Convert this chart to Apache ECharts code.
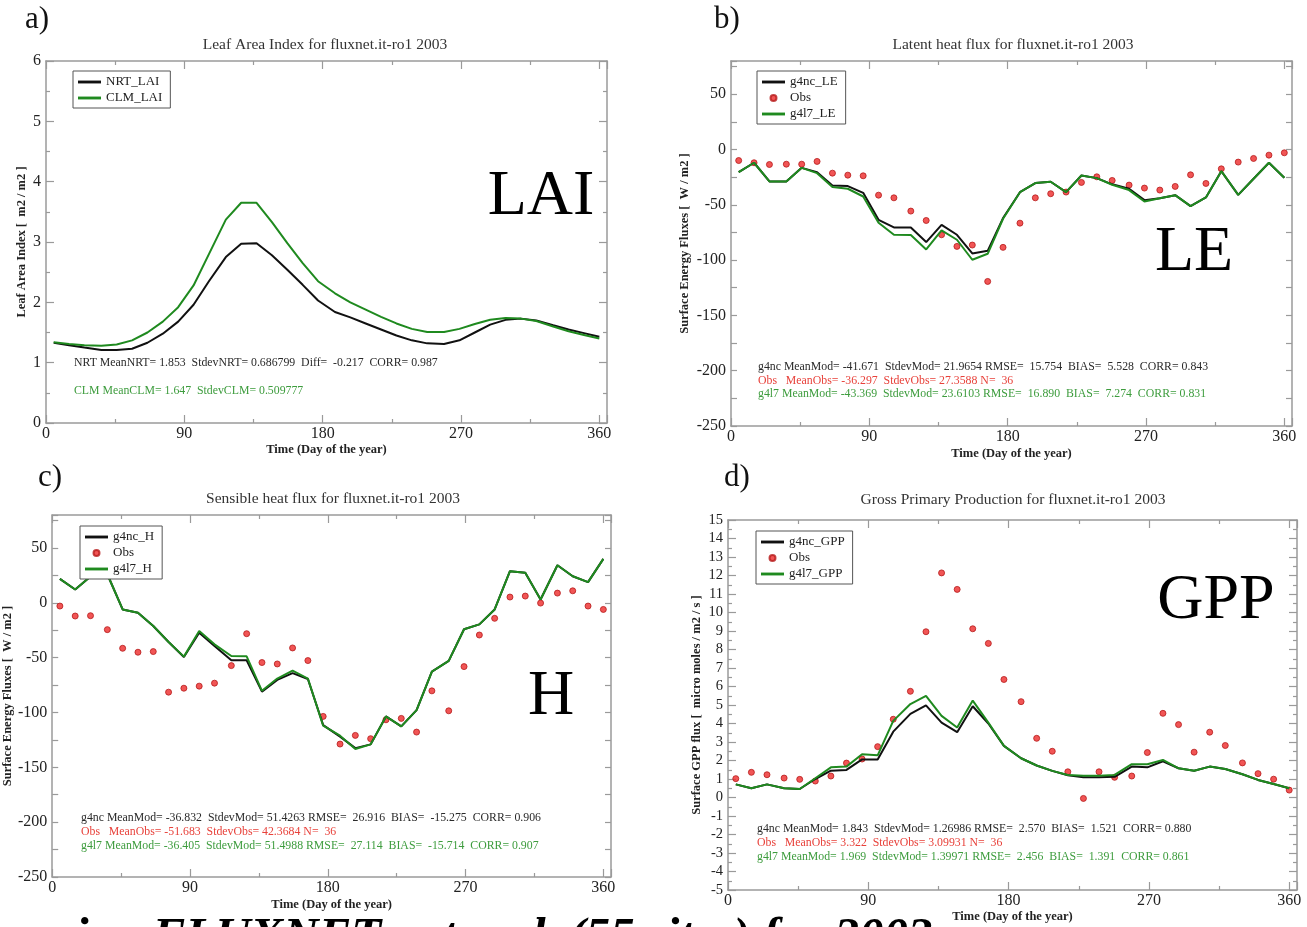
<!DOCTYPE html>
<html><head><meta charset="utf-8">
<script src="https://cdn.jsdelivr.net/npm/echarts@6/dist/echarts.min.js"></script>
<style>html,body{margin:0;padding:0;background:#fff;}#c{width:1307px;height:927px;}</style>
</head><body><div id="c"></div>
<script>
// ---- data ----
const DAYS = [5,15,25,36,46,56,66,76,86,96,106,117,127,137,147,157,167,177,188,198,208,218,228,238,248,259,269,279,289,299,309,319,330,340,350,360];
const X_TICKS = [0,90,180,270,360];
const LAI_TICKS = [0,1,2,3,4,5,6];
const FLUX_TICKS = [-250,-200,-150,-100,-50,0,50];
const GPP_TICKS = [-5,-4,-3,-2,-1,0,1,2,3,4,5,6,7,8,9,10,11,12,13,14,15];

const LAI_NRT = [1.33,1.29,1.25,1.21,1.21,1.23,1.33,1.48,1.68,1.96,2.35,2.75,2.97,2.98,2.78,2.54,2.29,2.03,1.84,1.75,1.65,1.55,1.45,1.37,1.32,1.31,1.37,1.50,1.63,1.71,1.73,1.70,1.62,1.55,1.49,1.43];
const LAI_CLM = [1.34,1.31,1.29,1.28,1.30,1.37,1.50,1.68,1.92,2.28,2.80,3.37,3.65,3.65,3.33,2.98,2.65,2.35,2.15,2.00,1.88,1.76,1.65,1.56,1.51,1.51,1.56,1.64,1.71,1.74,1.73,1.69,1.60,1.52,1.46,1.40];

const LE_G4NC = [-20.5,-12,-28.9,-28.9,-16.6,-20.5,-32.5,-33.1,-39.2,-63.6,-70.5,-70.5,-83.7,-68.1,-77.1,-94,-91.6,-62,-38.6,-30.4,-29.2,-38.6,-23.5,-25.9,-31.5,-35.5,-45.8,-44,-41.3,-51.2,-43.4,-19.6,-41,-26.5,-12,-25.6];
const LE_OBS = [-10,-12,-13.6,-13.3,-13.3,-10.8,-21.4,-23.2,-23.8,-41.3,-43.7,-55.7,-64.2,-77.1,-87.6,-86.4,-119.3,-88.5,-66.6,-43.7,-40,-38.5,-29.8,-24.7,-28,-32.2,-34.9,-36.7,-33.4,-22.9,-30.7,-17.5,-11.4,-8.1,-5.1,-3];
const LE_G4L7 = [-20.5,-12,-28.9,-28.9,-16.6,-21.4,-34,-35.5,-42.5,-66.3,-77.1,-77.4,-90.4,-73.2,-81.6,-99.7,-94.3,-62.6,-38.6,-30.4,-29.2,-38.6,-23.5,-25.9,-31.9,-36.7,-47,-44,-41.3,-51.2,-43.4,-19.6,-41,-26.5,-12,-25.6];

const H_G4NC = [21.8,12.1,24,26,-6.1,-9.1,-21.2,-35.8,-49.5,-27.3,-39.4,-52.4,-52.4,-81,-70.3,-64.2,-69.5,-111.5,-122,-132.5,-129.1,-103.6,-112.7,-97.9,-62.7,-53,-24.2,-19.7,-6.1,28.8,27.3,3,34.2,24.2,18.8,40];
const H_OBS = [-3,-12.1,-11.8,-24.5,-41.5,-45.1,-44.5,-81.5,-77.9,-76,-73.3,-57.3,-28.2,-54.5,-55.8,-41.2,-52.7,-103.6,-128.8,-120.9,-123.9,-106.7,-105.4,-117.9,-80.3,-98.5,-58.2,-29.4,-14.2,5.2,6.1,-0.3,8.8,10.9,-3,-6.1];
const H_G4L7 = [21.8,12.1,24,26,-6.1,-9.1,-21.2,-35.8,-49.1,-25.8,-37.9,-48.5,-48.8,-80.3,-69.1,-61.8,-69.1,-112.1,-121.2,-133.3,-129.1,-103.6,-112.7,-97.9,-62.7,-53,-24.2,-19.7,-6.1,28.8,27.3,3,34.2,24.2,18.8,40];

const GPP_G4NC = [0.71,0.5,0.71,0.5,0.46,1.0,1.45,1.49,2.06,2.06,3.56,4.52,4.98,4.05,3.53,4.93,4.0,2.79,2.12,1.73,1.44,1.2,1.09,1.09,1.12,1.67,1.63,1.96,1.58,1.45,1.67,1.54,1.26,0.95,0.73,0.5];
const GPP_OBS = [1.02,1.36,1.23,1.05,0.98,0.89,1.16,1.86,2.08,2.75,4.23,5.74,8.96,12.14,11.25,9.12,8.33,6.38,5.18,3.2,2.5,1.39,-0.05,1.39,1.09,1.16,2.43,4.55,3.94,2.45,3.53,2.81,1.87,1.29,0.99,0.4];
const GPP_G4L7 = [0.71,0.5,0.71,0.5,0.46,1.04,1.63,1.67,2.34,2.28,4.14,5.05,5.49,4.41,3.78,5.24,4.05,2.79,2.12,1.73,1.44,1.22,1.17,1.17,1.22,1.8,1.8,2.03,1.58,1.45,1.67,1.54,1.26,0.95,0.73,0.5];

// ---- styling / layout ----
const FONT = "'Liberation Serif','DejaVu Serif',serif";
const AX = '#9a9a9a';
const BLACK = '#111111', GREEN = '#1f8a1f', RED = '#ee2b2b';
const TXT_BLACK = '#2a2a2a', TXT_RED = '#e8413a', TXT_GREEN = '#3d9c3d';
const LINE_ICON = 'path://M0,0H24V3H0Z';

const grids = [
  {left:46, top:61, width:561, height:362},
  {left:731, top:61, width:561, height:365},
  {left:52, top:515, width:559, height:362},
  {left:728, top:520, width:569, height:370}
];
const yCfg = [
  {min:0, max:6, interval:1, minor:true, ticks:LAI_TICKS, name:'Leaf Area Index [  m2 / m2 ]', gap:18, fs:16},
  {min:-250, max:80, interval:25, minor:false, ticks:FLUX_TICKS, name:'Surface Energy Fluxes [  W / m2 ]', gap:40, fs:16},
  {min:-250, max:80, interval:25, minor:false, ticks:FLUX_TICKS, name:'Surface Energy Fluxes [  W / m2 ]', gap:38, fs:16},
  {min:-5, max:15, interval:1, minor:true, ticks:GPP_TICKS, name:'Surface GPP flux [  micro moles / m2 / s ]', gap:25, fs:14.5}
];
const xGap = [19, 21, 21, 20];

const xAxis = [], yAxis = [];
grids.forEach((g, i) => {
  const base = {
    type:'value', gridIndex:i, min:0, max:365, interval:90,
    axisLine:{show:true, onZero:false, lineStyle:{color:AX, width:1.5}},
    axisTick:{show:true, inside:true, length:8, lineStyle:{color:AX, width:1.2}},
    minorTick:{show:true, splitNumber:2, length:4, lineStyle:{color:AX, width:1.2}},
    splitLine:{show:false}, minorSplitLine:{show:false}
  };
  xAxis.push(Object.assign({}, base, {
    position:'bottom',
    name:'Time (Day of the year)', nameLocation:'middle', nameGap:xGap[i],
    nameTextStyle:{fontFamily:FONT, fontWeight:'bold', fontSize:12.5, color:'#222'},
    axisLabel:{show:true, margin:3, fontFamily:FONT, fontSize:16, color:'#222',
      formatter:v => X_TICKS.indexOf(v) >= 0 ? String(v) : ''}
  }));
  xAxis.push(Object.assign({}, base, {position:'top', axisLabel:{show:false}}));
  const c = yCfg[i];
  const ybase = {
    type:'value', gridIndex:i, min:c.min, max:c.max, interval:c.interval,
    axisLine:{show:true, onZero:false, lineStyle:{color:AX, width:1.5}},
    axisTick:{show:true, inside:true, length:c.minor ? 8 : 6, lineStyle:{color:AX, width:1.2}},
    minorTick:{show:c.minor, splitNumber:2, length:4, lineStyle:{color:AX, width:1.2}},
    splitLine:{show:false}, minorSplitLine:{show:false}
  };
  yAxis.push(Object.assign({}, ybase, {
    position:'left',
    name:c.name, nameLocation:'middle', nameGap:c.gap,
    nameTextStyle:{fontFamily:FONT, fontWeight:'bold', fontSize:12.5, color:'#222'},
    axisLabel:{show:true, margin:5, fontFamily:FONT, fontSize:c.fs, color:'#222',
      formatter:v => c.ticks.indexOf(v) >= 0 ? String(v) : ''}
  }));
  yAxis.push(Object.assign({}, ybase, {position:'right', axisLabel:{show:false}}));
});

function pts(arr){ return DAYS.map((d, k) => [d, arr[k]]); }
function line(name, arr, gi, color){
  return {type:'line', name, data:pts(arr), xAxisIndex:2*gi, yAxisIndex:2*gi,
    symbol:'none', lineStyle:{color, width:2}, itemStyle:{color}, z:3, silent:true, animation:false};
}
function obs(arr, gi){
  return {type:'scatter', name:'Obs', data:pts(arr), xAxisIndex:2*gi, yAxisIndex:2*gi,
    symbol:'circle', symbolSize:6, itemStyle:{color:RED, borderColor:'#b51a1a', borderWidth:1},
    z:2, silent:true, animation:false};
}
const series = [
  line('NRT_LAI', LAI_NRT, 0, BLACK), line('CLM_LAI', LAI_CLM, 0, GREEN),
  obs(LE_OBS, 1), line('g4nc_LE', LE_G4NC, 1, BLACK), line('g4l7_LE', LE_G4L7, 1, GREEN),
  obs(H_OBS, 2), line('g4nc_H', H_G4NC, 2, BLACK), line('g4l7_H', H_G4L7, 2, GREEN),
  obs(GPP_OBS, 3), line('g4nc_GPP', GPP_G4NC, 3, BLACK), line('g4l7_GPP', GPP_G4L7, 3, GREEN)
];

function legend(names, left, top){
  const data = names.map(n => n === 'Obs' ? {name:n, icon:'circle'} : {name:n, icon:LINE_ICON});
  return {data, left, top, orient:'vertical', itemWidth:23, itemHeight:6, itemGap:2,
    padding:[4,8,3,5], borderColor:'#555', borderWidth:1, backgroundColor:'#fff',
    selectedMode:false, inactiveColor:'#222',
    textStyle:{fontFamily:FONT, fontSize:13, color:'#222', lineHeight:14}};
}
const legends = [
  legend(['NRT_LAI','CLM_LAI'], 73, 71),
  legend(['g4nc_LE','Obs','g4l7_LE'], 757, 71),
  legend(['g4nc_H','Obs','g4l7_H'], 80, 526),
  legend(['g4nc_GPP','Obs','g4l7_GPP'], 756, 531)
];

function T(text, x, y, size, opts){
  opts = opts || {};
  const align = opts.align || 'left';
  return {type:'text', x, y, z:100, silent:true, style:{
    text, fill: opts.color || '#222',
    font: (opts.style ? opts.style + ' ' : '') + (opts.weight ? opts.weight + ' ' : '') + size + "px 'Liberation Serif','DejaVu Serif',serif",
    align, textAlign:align, verticalAlign:'middle', textVerticalAlign:'middle'}};
}
const graphics = [
  // panel letters
  T('a)', 37, 20, 31, {align:'center', color:'#111'}),
  T('b)', 727, 20, 31, {align:'center', color:'#111'}),
  T('c)', 50, 478, 31, {align:'center', color:'#111'}),
  T('d)', 737, 478, 31, {align:'center', color:'#111'}),
  // titles
  T('Leaf Area Index for fluxnet.it-ro1 2003', 325, 45, 15.5, {align:'center', color:'#333'}),
  T('Latent heat flux for fluxnet.it-ro1 2003', 1013, 44.5, 15.5, {align:'center', color:'#333'}),
  T('Sensible heat flux for fluxnet.it-ro1 2003', 333, 499, 15.5, {align:'center', color:'#333'}),
  T('Gross Primary Production for fluxnet.it-ro1 2003', 1013, 500, 15.5, {align:'center', color:'#333'}),
  // big variable labels
  T('LAI', 541, 197, 64, {align:'center', color:'#000'}),
  T('LE', 1194, 253, 64, {align:'center', color:'#000'}),
  T('H', 551, 697, 64, {align:'center', color:'#000'}),
  T('GPP', 1216, 601, 64, {align:'center', color:'#000'}),
  // statistics
  T('NRT MeanNRT= 1.853  StdevNRT= 0.686799  Diff=  -0.217  CORR= 0.987', 74, 363, 11.8, {color:TXT_BLACK}),
  T('CLM MeanCLM= 1.647  StdevCLM= 0.509777', 74, 391, 11.8, {color:TXT_GREEN}),
  T('g4nc MeanMod= -41.671  StdevMod= 21.9654 RMSE=  15.754  BIAS=  5.528  CORR= 0.843', 758, 367, 11.8, {color:TXT_BLACK}),
  T('Obs   MeanObs= -36.297  StdevObs= 27.3588 N=  36', 758, 380.5, 11.8, {color:TXT_RED}),
  T('g4l7 MeanMod= -43.369  StdevMod= 23.6103 RMSE=  16.890  BIAS=  7.274  CORR= 0.831', 758, 394, 11.8, {color:TXT_GREEN}),
  T('g4nc MeanMod= -36.832  StdevMod= 51.4263 RMSE=  26.916  BIAS=  -15.275  CORR= 0.906', 81, 818, 11.8, {color:TXT_BLACK}),
  T('Obs   MeanObs= -51.683  StdevObs= 42.3684 N=  36', 81, 832, 11.8, {color:TXT_RED}),
  T('g4l7 MeanMod= -36.405  StdevMod= 51.4988 RMSE=  27.114  BIAS=  -15.714  CORR= 0.907', 81, 846, 11.8, {color:TXT_GREEN}),
  T('g4nc MeanMod= 1.843  StdevMod= 1.26986 RMSE=  2.570  BIAS=  1.521  CORR= 0.880', 757, 829, 11.8, {color:TXT_BLACK}),
  T('Obs   MeanObs= 3.322  StdevObs= 3.09931 N=  36', 757, 843, 11.8, {color:TXT_RED}),
  T('g4l7 MeanMod= 1.969  StdevMod= 1.39971 RMSE=  2.456  BIAS=  1.391  CORR= 0.861', 757, 857, 11.8, {color:TXT_GREEN}),
  // cropped slide caption at bottom
  T('ing FLUXNET network (55 sites) for 2003', 75, 938, 49, {style:'italic', weight:'bold', color:'#000'})
];

const chart = echarts.init(document.getElementById('c'), null, {renderer:'canvas'});
chart.setOption({
  animation:false,
  backgroundColor:'#ffffff',
  grid: grids.map(g => Object.assign({containLabel:false}, g)),
  xAxis, yAxis, series,
  legend: legends,
  graphic: graphics,
  tooltip:{show:false}
});
</script></body></html>
